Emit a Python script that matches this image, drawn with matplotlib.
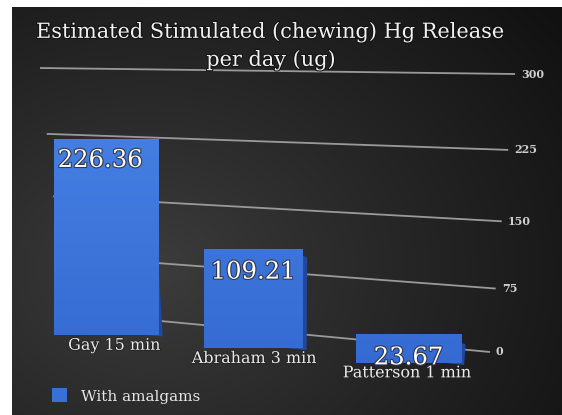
import numpy as np
import matplotlib
matplotlib.use("Agg")
import matplotlib.pyplot as plt
from matplotlib.transforms import Transform, Affine2D, offset_copy
from matplotlib import patheffects as pe

# ---- data ----
categories = ["Gay 15 min", "Abraham 3 min", "Patterson 1 min"]
release_ug = [226.36, 109.21, 23.67]
value_ticks = [0, 75, 150, 225, 300]
series_label = "With amalgams"
title_lines = ["Estimated Stimulated (chewing) Hg Release", "per day (ug)"]

W, H = 562, 415
SERIF = ["DejaVu Serif"]


class Homography(Transform):
    """Projective mapping of the chart plane (category, value) onto the canvas."""
    input_dims = 2
    output_dims = 2
    is_separable = False
    has_inverse = True

    def __init__(self, matrix):
        super().__init__()
        self._m = np.asarray(matrix, float)

    def transform_non_affine(self, values):
        v = np.asarray(values, float)
        flat = v.reshape(-1, 2)
        h = np.column_stack([flat, np.ones(len(flat))]) @ self._m.T
        out = h[:, :2] / h[:, 2:3]
        return out.reshape(v.shape)

    def inverted(self):
        return Homography(np.linalg.inv(self._m))


def solve_homography(src, dst):
    rows = []
    for (x, y), (u, v) in zip(src, dst):
        rows.append([x, y, 1, 0, 0, 0, -u * x, -u * y, -u])
        rows.append([0, 0, 0, x, y, 1, -v * x, -v * y, -v])
    _, _, vt = np.linalg.svd(np.asarray(rows, float))
    return vt[-1].reshape(3, 3)


fig = plt.figure(figsize=(W / 100, H / 100), dpi=100, facecolor="white")
ax = fig.add_axes([0, 0, 1, 1])
ax.set_autoscale_on(False)
ax.axis("off")

# dark stage background with a soft light spot on the left
yy, xx = np.mgrid[8:415, 12:562]
dist = np.hypot((xx - 150) / 1.25, (yy - 270))
g = np.clip(dist / 420, 0, 1) ** 0.9
c_in = np.array([0.24, 0.24, 0.24])
c_out = np.array([0.065, 0.065, 0.065])
bg = c_in + (c_out - c_in) * g[..., None]
ax.imshow(bg, extent=(12, 562, 415, 8), zorder=0, interpolation="bilinear")

# back wall plane (category axis x value axis) seen in perspective
U0, U1 = -0.47, 2.53
wall_px = [(40, 68), (515, 74), (490, 352), (65, 312)]
wall_uv = [(U0, 300), (U1, 300), (U1, 0), (U0, 0)]
H_wall = Homography(solve_homography(wall_uv, wall_px))
T_wall = H_wall + ax.transData


def toward_viewer(s, vx=380.0, vy=-20.0):
    return Affine2D().translate(-vx, -vy).scale(s).translate(vx, vy)


S_FRONT = 1.039
T_front = H_wall + toward_viewer(S_FRONT) + ax.transData

# gridlines and value axis labels
for t in value_ticks:
    ax.plot([U0, U1], [t, t], color="#9a9a9a", lw=1.3, transform=T_wall,
            zorder=2, solid_capstyle="butt")
    ax.text(U1, t, str(t), transform=offset_copy(T_wall, fig=fig, x=6, y=0, units="dots"),
            ha="left", va="center", fontsize=8, fontweight="bold",
            color="#d0d0d0", family=SERIF, zorder=2)

# bars: a short extrusion (side/top faces) behind the front face
xpos = np.arange(len(categories))
BW = 0.65
for k in np.linspace(1.0, 0.15, 6):
    shift = Affine2D().translate(4.0 * k, -1.5 * k)
    ax.bar(xpos, release_ug, BW, color="#22479c", linewidth=0,
           transform=T_front + shift, zorder=3)
front = ax.bar(xpos, release_ug, BW, color="#3a70d6", linewidth=0,
               transform=T_front, zorder=4, label=series_label)

rows = np.linspace(0, 1, 407)[:, None]
top_c = np.array([0.31, 0.54, 0.92])
bot_c = np.array([0.19, 0.40, 0.81])
grad = top_c + (bot_c - top_c) * rows[..., None]
grad = np.repeat(grad, 2, axis=1)
for r in front.patches:
    im = ax.imshow(grad, extent=(12, 562, 415, 8), zorder=4.5, interpolation="bilinear")
    im.set_clip_path(r)

outline = [pe.withStroke(linewidth=1.6, foreground="#30384a")]
for u, val in zip(xpos, release_ug):
    ax.text(u, val, f"{val:.2f}",
            transform=offset_copy(T_front, fig=fig, x=0, y=-8, units="dots"),
            ha="center", va="top", fontsize=17.5, color="white", family=SERIF,
            zorder=6, path_effects=outline)

for u, name in zip(xpos, categories):
    ax.text(u, 0, name, transform=offset_copy(T_front, fig=fig, x=0, y=-6, units="dots"),
            ha="center", va="top", fontsize=11.5, color="#ececec", family=SERIF,
            zorder=5, path_effects=[pe.withStroke(linewidth=1.2, foreground="#222")])

# title
for line, ypix in zip(title_lines, (32, 60)):
    ax.text(271, ypix, line, ha="center", va="center", fontsize=15,
            color="#f2f2f2", family=SERIF, zorder=6,
            path_effects=[pe.withStroke(linewidth=1.5, foreground="#111")])

leg = ax.legend(handles=[front], labels=[series_label], loc="center left",
                bbox_to_anchor=(52 / W, 1 - 396 / H), frameon=False,
                handlelength=1.0, handleheight=1.0, handletextpad=0.9,
                borderpad=0, borderaxespad=0,
                prop={"family": SERIF, "size": 11})
for txt in leg.get_texts():
    txt.set_color("#e6e6e6")

ax.set_xlim(0, W)
ax.set_ylim(H, 0)
ax.set_aspect("auto")
fig.savefig("out.png", dpi=100, facecolor="white")
